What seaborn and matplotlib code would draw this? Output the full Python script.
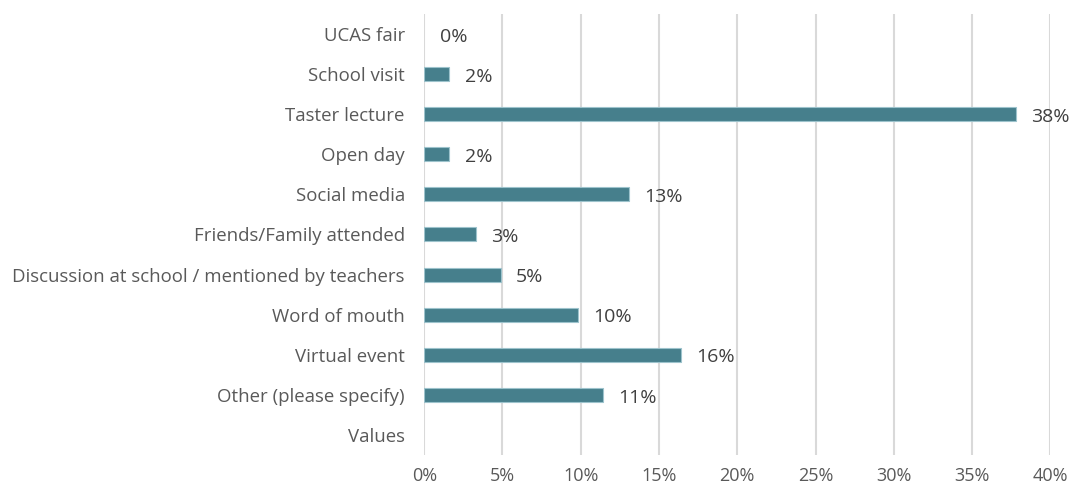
import numpy as np
import pandas as pd
import seaborn as sns
import matplotlib.pyplot as plt

# survey answers, top to bottom
categories = ['UCAS fair', 'School visit', 'Taster lecture', 'Open day', 'Social media',
              'Friends/Family attended', 'Discussion at school / mentioned by teachers',
              'Word of mouth', 'Virtual event', 'Other (please specify)', 'Values']
shares = [0.0, 1.6, 37.8, 1.6, 13.1, 3.3, 4.9, 9.8, 16.4, 11.4, np.nan]
xticks = [0, 5, 10, 15, 20, 25, 30, 35, 40]

df = pd.DataFrame({'category': categories, 'share': shares})

sns.set_style('white')
plt.rcParams['font.family'] = ['Open Sans', 'DejaVu Sans']

fig = plt.figure(figsize=(10.74, 4.88), dpi=100)
ax = fig.add_axes([0.395, 0.068, 0.583, 0.903])

sns.barplot(data=df, y='category', x='share', order=categories, orient='h',
            color='#467F8C', saturation=1, width=0.35, edgecolor='#9DC3CC',
            linewidth=0.8, ax=ax)
# no outline on the empty bar
for p, v in zip(ax.patches, shares):
    if not v:
        p.set_linewidth(0)

for i, v in enumerate(shares):
    if np.isnan(v):
        continue
    ax.annotate(f'{round(v)}%', xy=(v, i), xytext=(11, -2), textcoords='offset points',
                ha='left', va='center', fontsize=14, color='#404040')

ax.set_xlim(0, 40)
ax.set_ylim(10.5, -0.5)
ax.set_xticks(xticks)
ax.set_xticklabels([f'{t}%' for t in xticks])
ax.xaxis.grid(True, color='#D9D9D9', linewidth=1.5)
ax.set_axisbelow(True)
for s in ax.spines.values():
    s.set_visible(False)
ax.tick_params(axis='x', length=0, pad=9, labelsize=13, labelcolor='#595959')
ax.tick_params(axis='y', length=0, pad=14, labelsize=13.4, labelcolor='#595959')
ax.set_xlabel('')
ax.set_ylabel('')

fig.savefig('out.png', dpi=100)
